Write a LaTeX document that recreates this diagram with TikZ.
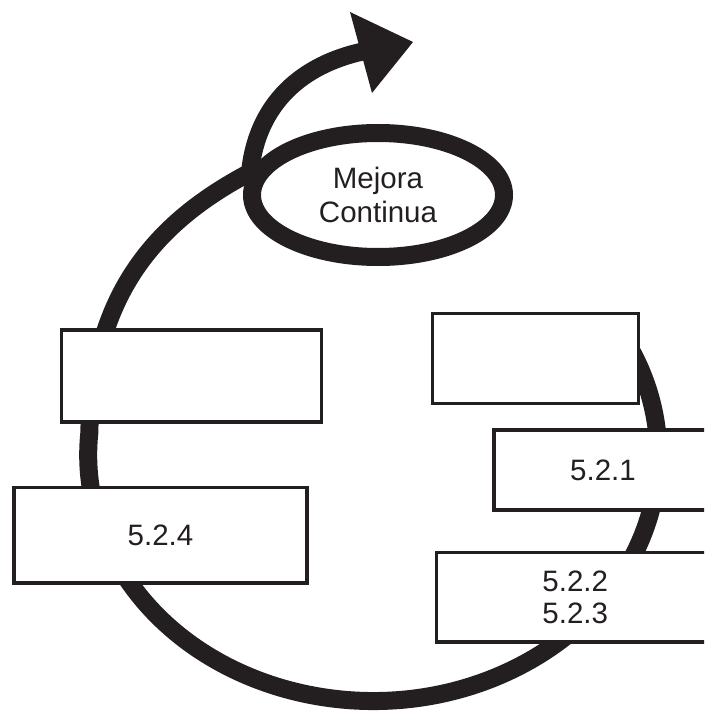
\documentclass[tikz,border=0pt]{standalone}
\usepackage{fontspec}
\setmainfont{Liberation Sans}
\usetikzlibrary{shapes.geometric}
\definecolor{ink}{RGB}{35,31,32}
\begin{document}
\begin{tikzpicture}[x=1pt,y=-1pt,
  loopline/.style={draw=ink,line width=18pt},
  stepbox/.style={rectangle,draw=ink,line width=3.5pt,fill=white,inner sep=0pt,
    font=\fontsize{29.5}{32}\selectfont,align=center,text=ink},
  hubring/.style={ellipse,draw=ink,line width=18pt,inner sep=0pt,
    minimum width=252pt,minimum height=124pt,
    font=\fontsize{29.5}{34.5}\selectfont,align=center,text=ink}]
\useasboundingbox (0,0) rectangle (704,711);
\clip (0,0) rectangle (704,711);

% central ellipse
\node[hubring] (mc) at (378,195) {Mejora\\Continua};

% big loop: starts behind the upper right box, runs clockwise, ends in the ellipse
\coordinate (loopstart) at (620,332);
\draw[loopline] (loopstart)
  arc[start angle=-30,end angle=185,x radius=285,y radius=246]
  .. controls (92,300) and (150,225) .. (mc.170);

% outgoing arrow
\coordinate (tipbase) at (365,51);
\coordinate (tipA) at (350,12);
\coordinate (tip) at (413,42);
\coordinate (tipB) at (372,93);
\draw[loopline] (mc.170) .. controls (258,95) and (312,62) .. (tipbase);
\fill[ink] (tipA) -- (tip) -- (tipB) -- cycle;

% boxes
\node[stepbox,minimum width=260pt,minimum height=92pt] (ba) at (191.5,376) {};
\node[stepbox,minimum width=293pt,minimum height=95.5pt] (bb) at (160.5,535.25) {5.2.4};
\node[stepbox,minimum width=206pt,minimum height=90pt] (bc) at (535.5,358.5) {};
\node[stepbox,minimum width=218pt,minimum height=80pt] (bd) at (603,470) {5.2.1};
\node[stepbox,minimum width=277.5pt,minimum height=89.5pt] (be) at (575.25,597.25) {5.2.2\\5.2.3};
\end{tikzpicture}
\end{document}
